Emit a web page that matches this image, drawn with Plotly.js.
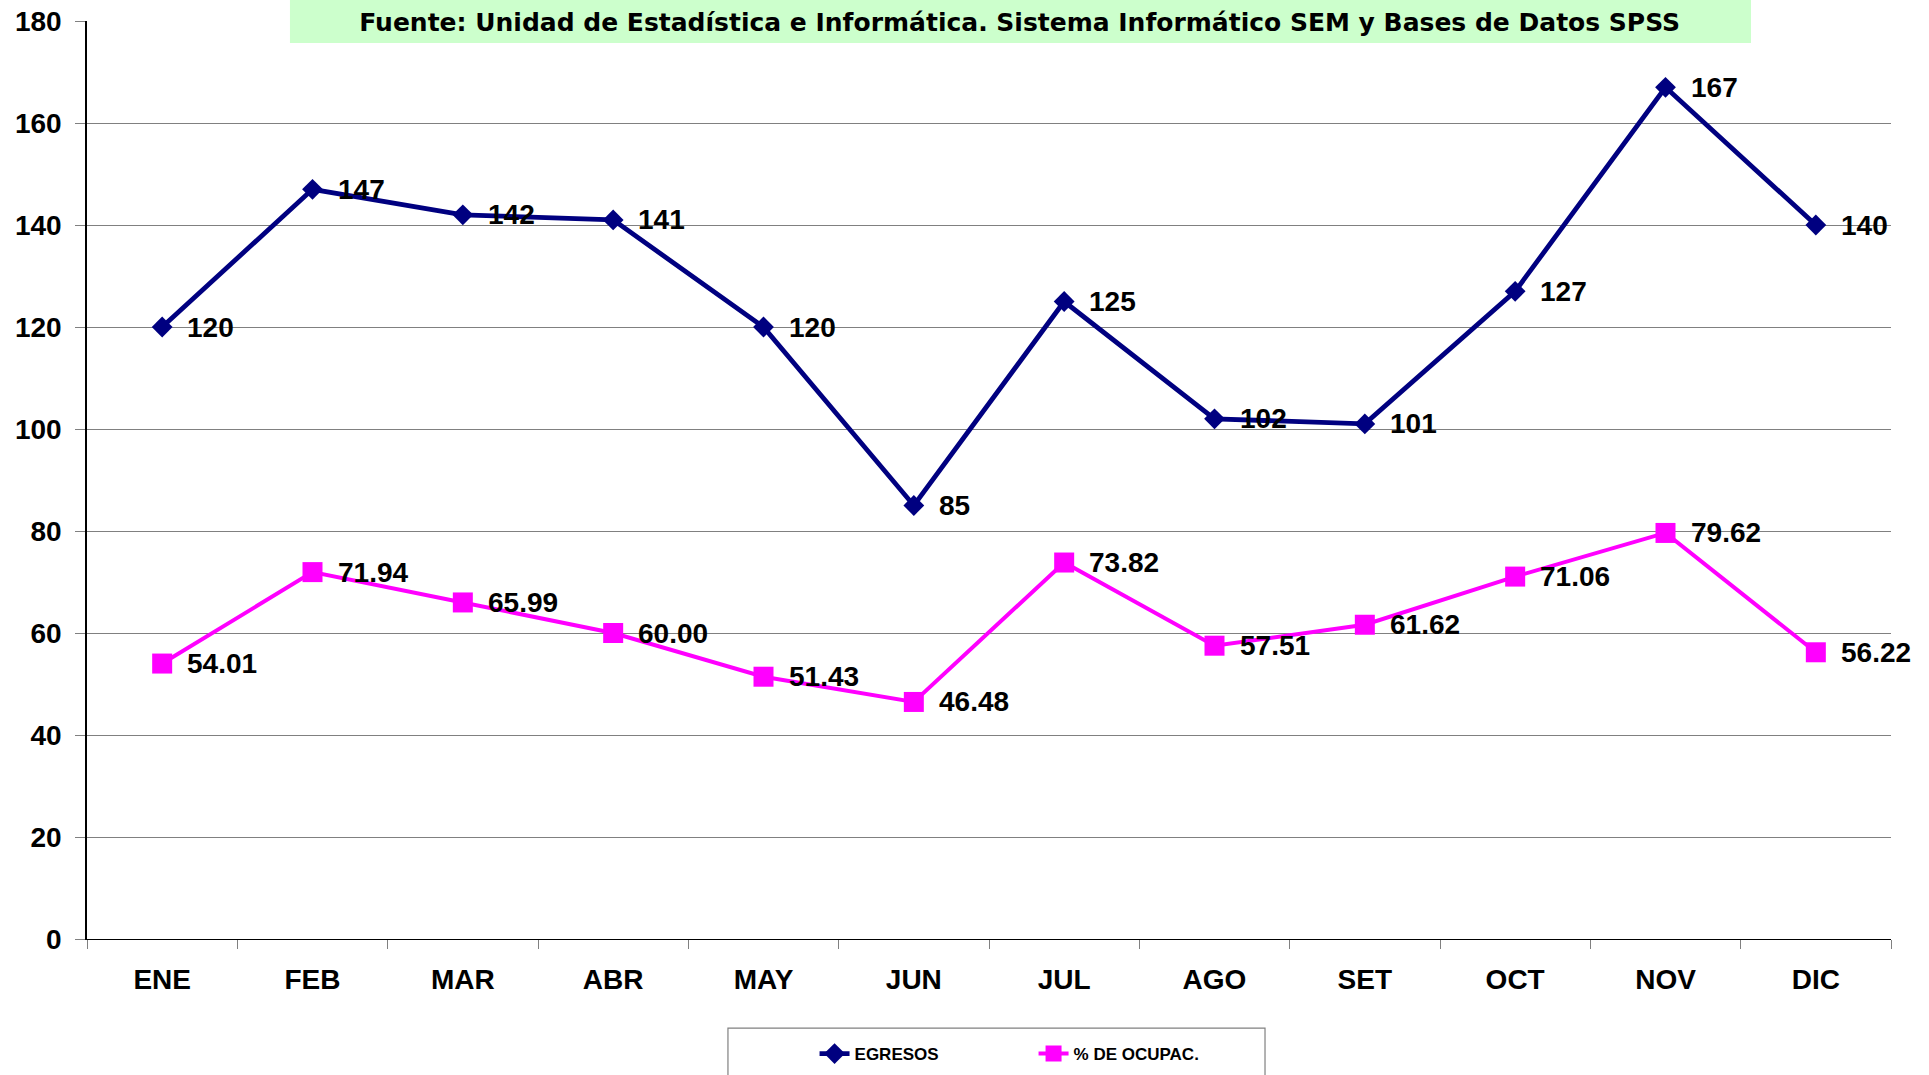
<!DOCTYPE html>
<html>
<head>
<meta charset="utf-8">
<script src="https://cdn.plot.ly/plotly-3.0.1.min.js"></script>
<style>html,body{margin:0;padding:0;background:#fff;}#chart{width:1929px;height:1075px;}</style>
</head>
<body>
<div id="chart"></div>
<script>
const months = ["ENE","FEB","MAR","ABR","MAY","JUN","JUL","AGO","SET","OCT","NOV","DIC"];
const egresos = [120,147,142,141,120,85,125,102,101,127,167,140];
const ocupac = [54.01,71.94,65.99,60.00,51.43,46.48,73.82,57.51,61.62,71.06,79.62,56.22];
const seriesNames = ["EGRESOS","% DE OCUPAC."];
const titleText = "Fuente: Unidad de Estadística e Informática. Sistema Informático SEM y Bases de Datos SPSS";
const yTicks = [0,20,40,60,80,100,120,140,160,180];

const AR = "Arial, 'Liberation Sans', sans-serif";

const traces = [
  {
    type: "scatter", mode: "lines+markers", name: seriesNames[0],
    x: months, y: egresos,
    line: {color: "#000080", width: 4.8},
    marker: {symbol: "diamond", size: 16, color: "#000080"}
  },
  {
    type: "scatter", mode: "lines+markers", name: seriesNames[1],
    x: months, y: ocupac,
    line: {color: "#FF00FF", width: 4},
    marker: {symbol: "square", size: 20, color: "#FF00FF"}
  }
];

const annotations = [];
months.forEach((m, i) => {
  annotations.push({x: m, y: egresos[i], xref: "x", yref: "y", text: String(egresos[i]),
    showarrow: false, xanchor: "left", yanchor: "middle", xshift: 23,
    font: {family: AR, size: 28, color: "#000", weight: 700}});
  annotations.push({x: m, y: ocupac[i], xref: "x", yref: "y", text: ocupac[i].toFixed(2),
    showarrow: false, xanchor: "left", yanchor: "middle", xshift: 23,
    font: {family: AR, size: 28, color: "#000", weight: 700}});
});

const layout = {
  width: 1929, height: 1075,
  paper_bgcolor: "#ffffff", plot_bgcolor: "#ffffff",
  margin: {l: 87, r: 38, t: 21, b: 136, pad: 0, autoexpand: false},
  showlegend: true,
  title: {
    text: titleText, x: 0.517, xanchor: "center", y: 0.9795, yanchor: "middle",
    xref: "paper", yref: "container",
    font: {family: "'DejaVu Sans', Verdana, sans-serif", size: 25, color: "#000", weight: 700}
  },
  xaxis: {
    type: "category", range: [-0.5, 11.5], tickvals: months, ticktext: months,
    showline: true, linecolor: "#000", linewidth: 1.2,
    ticks: "outside", tickson: "boundaries", ticklen: 9, tickcolor: "#808080", tickwidth: 1,
    showgrid: false, zeroline: false, ticklabelstandoff: 15,
    tickfont: {family: AR, size: 28, color: "#000", weight: 700}
  },
  yaxis: {
    range: [0, 180], tickvals: yTicks,
    showline: true, linecolor: "#000", linewidth: 1.5,
    ticks: "outside", ticklen: 10, tickcolor: "#808080", tickwidth: 1,
    showgrid: true, gridcolor: "#808080", gridwidth: 1, zeroline: false,
    ticklabelstandoff: 8,
    tickfont: {family: AR, size: 28, color: "#000", weight: 700}
  },
  legend: {
    orientation: "h", x: 0.4033, xanchor: "left", y: -0.1253, yanchor: "middle",
    bgcolor: "rgba(0,0,0,0)", borderwidth: 0, entrywidth: 174,
    font: {family: AR, size: 17, color: "#000", weight: 700}
  },
  shapes: [
    {type: "rect", xref: "paper", yref: "paper", x0: 0.1125, x1: 0.9224, y0: 0.976, y1: 1.03,
     fillcolor: "#CCFFCC", line: {width: 0}, layer: "above"},
    {type: "rect", xref: "paper", yref: "paper", x0: 0.3553, x1: 0.653, y0: -0.2, y1: -0.097,
     fillcolor: "rgba(0,0,0,0)", line: {color: "#808080", width: 1.2}, layer: "above"}
  ],
  annotations: annotations
};

Plotly.newPlot("chart", traces, layout, {displayModeBar: false, responsive: false});
</script>
</body>
</html>
